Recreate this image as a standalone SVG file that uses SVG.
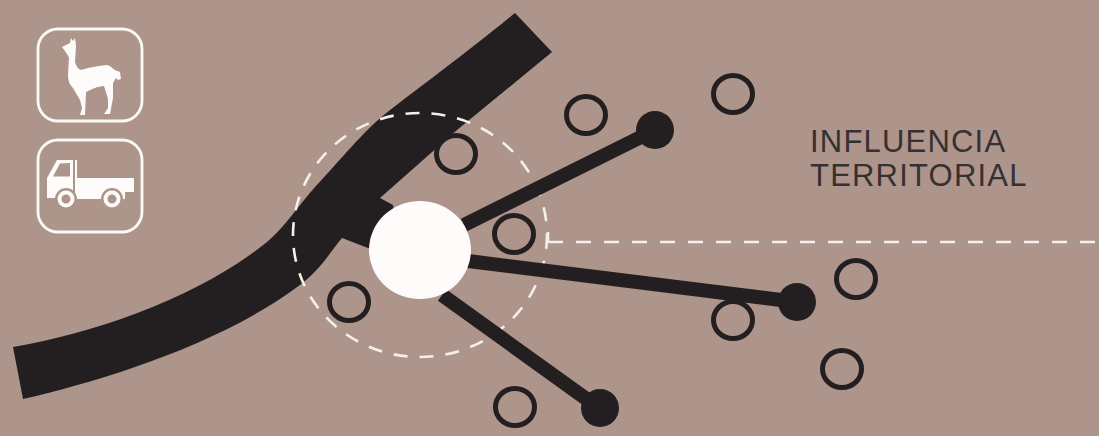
<svg xmlns="http://www.w3.org/2000/svg" width="1099" height="436" viewBox="0 0 1099 436">
<style>
.ring{fill:none;stroke:#231f20;stroke-width:5}
.link{stroke:#231f20;stroke-width:14;fill:none}
.hub{fill:#231f20}
.box{fill:none;stroke:#fbf9f6;stroke-width:2.800}
.w{fill:#fdfcfa}
.dash{fill:none;stroke:#f3efe9;stroke-width:2.600}
.halo{fill:#ad958b}
.tyre{fill:#ad958b;stroke:#fdfcfa;stroke-width:4}
text{font-family:"Liberation Sans",Arial,sans-serif;font-size:31px;letter-spacing:1.200px;fill:#353132}
</style>
<rect width="1099" height="436" fill="#ad958b"/>
<g id="road"><path fill="#231f20" d="M515 13L552 52L457 130L380 198L393 205L400 250L368 248L342 238C330 252 322 268 300 285C220 345 100 381 23 399L13 347C100 332 200 296 267 242C285 227 298 206 315 187C345 155 360 135 385 114C420 87 470 50 515 13Z"/></g>
<g id="influence"><ellipse class="dash" stroke-dasharray="14 12" cx="420" cy="235" rx="127" ry="122"/><path class="dash" stroke-dasharray="15 13" d="M548 242H1099"/><path class="dash" d="M548 232V243"/></g>
<g id="connectors">
<path class="link" d="M464 225L655 130"/>
<path class="link" d="M468 261L797 302"/>
<path class="link" d="M442 295L599 408"/>
</g>
<g id="center"><ellipse class="w" cx="420" cy="250" rx="51" ry="49"/></g>
<g id="hubs"><circle class="hub" cx="655" cy="130" r="19"/><circle class="hub" cx="797" cy="302" r="19"/><circle class="hub" cx="600" cy="408" r="19"/></g>
<g id="rings">
<ellipse class="ring" cx="586" cy="115" rx="19.500" ry="18.500"/>
<ellipse class="ring" cx="733" cy="94" rx="19.500" ry="18.500"/>
<ellipse class="ring" cx="456" cy="154" rx="19.500" ry="18.500"/>
<ellipse class="ring" cx="514" cy="234" rx="19.500" ry="18.500"/>
<ellipse class="ring" cx="349" cy="302" rx="19.500" ry="18.500"/>
<ellipse class="ring" cx="856" cy="279" rx="19.500" ry="18.500"/>
<ellipse class="ring" cx="733" cy="320" rx="19.500" ry="18.500"/>
<ellipse class="ring" cx="842" cy="369" rx="19.500" ry="18.500"/>
<ellipse class="ring" cx="515" cy="407" rx="19.500" ry="18.500"/>
</g>
<g id="label"><text x="810" y="152">INFLUENCIA</text><text x="810" y="186">TERRITORIAL</text></g>
<g id="llama-icon"><rect class="box" x="38" y="29" width="104" height="92" rx="20"/>
<path class="w" d="M62 47L70 43L71 38L73 41L75 38L76 46L75 62C76 66 78 69 81 70C88 68 96 66 107 65C111 66 113 69 115 70L120 72L121 79L118 80L116 78L113 83L113 98L110 114L104 114L108 108L108 99L104 86C98 86 90 90 86 92L85 115L80 115L82 108L80 100L73 88C69 84 68 80 68 74L69 58C67 53 64 50 62 47Z"/></g>
<g id="truck-icon"><rect class="box" x="38" y="140" width="104" height="92" rx="20"/>
<path class="w" fill-rule="evenodd" d="M57 160H73V198H47V178ZM60 163.500L53 176.500H70V163Z"/>
<path class="w" d="M75 160H77V178H134V192H125V199H75Z"/>
<circle class="halo" cx="66" cy="199" r="11"/><circle class="halo" cx="112" cy="199" r="11"/>
<circle class="tyre" cx="66" cy="199" r="6.500"/><circle class="tyre" cx="112" cy="199" r="6.500"/></g>
</svg>
